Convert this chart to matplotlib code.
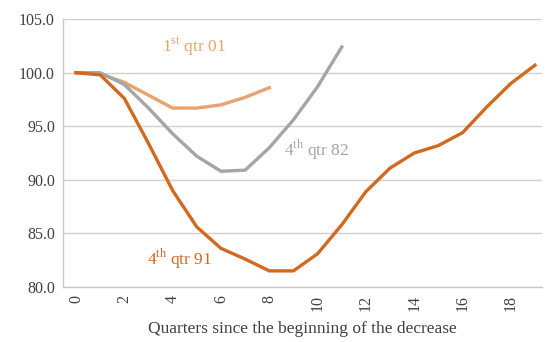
import matplotlib
matplotlib.use('Agg')
import matplotlib.pyplot as plt

# Quarters since start of decrease
q01 = [0, 1, 2, 3, 4, 5, 6, 7, 8]
v01 = [100.0, 99.9, 99.1, 97.9, 96.7, 96.7, 97.0, 97.7, 98.6]

q82 = list(range(12))
v82 = [100.0, 100.0, 98.9, 96.7, 94.3, 92.2, 90.8, 90.9, 93.0, 95.6, 98.7, 102.4]

q91 = list(range(20))
v91 = [100.0, 99.8, 97.6, 93.4, 89.0, 85.6, 83.6, 82.6, 81.5, 81.5,
       83.1, 85.8, 88.9, 91.1, 92.5, 93.2, 94.4, 96.8, 99.0, 100.7]

xticks = list(range(0, 20, 2))
yticks = [80, 85, 90, 95, 100, 105]

c01 = '#E8A36E'
c82 = '#A5A5A5'
c91 = '#D2691E'
text_color = '#404040'

plt.rcParams['font.family'] = ['Liberation Serif', 'DejaVu Serif']

fig = plt.figure(figsize=(5.45, 3.42), dpi=100)
ax = fig.add_axes([0.116, 0.161, 0.879, 0.783])

ax.plot(q01, v01, color=c01, linewidth=2.4)
ax.plot(q82, v82, color=c82, linewidth=2.4)
ax.plot(q91, v91, color=c91, linewidth=2.4)

ax.set_xlim(-0.53, 19.3)
ax.set_ylim(80, 105)
ax.set_yticks(yticks)
ax.set_yticklabels([f'{y:.1f}' for y in yticks], fontsize=11.5, color=text_color)
ax.set_xticks(xticks)
ax.set_xticklabels([str(x) for x in xticks], rotation=90, fontsize=11.5, color=text_color)
ax.tick_params(length=0, pad=6)

ax.grid(axis='y', color='#D0D0D0', linewidth=1)
ax.set_axisbelow(True)
for s in ['top', 'right']:
    ax.spines[s].set_visible(False)
for s in ['left', 'bottom']:
    ax.spines[s].set_color('#C8C8C8')
    ax.spines[s].set_linewidth(1)

ax.text(3.55, 102.0, r'1$^{\mathregular{st}}$ qtr 01', color=c01, fontsize=12.5)
ax.text(8.6, 92.3, r'4$^{\mathregular{th}}$ qtr 82', color=c82, fontsize=12.5)
ax.text(2.95, 82.1, r'4$^{\mathregular{th}}$ qtr 91', color=c91, fontsize=12.5)

ax.set_xlabel('Quarters since the beginning of the decrease', fontsize=12.5,
              color=text_color, labelpad=7)

fig.savefig('out.png', dpi=100)
